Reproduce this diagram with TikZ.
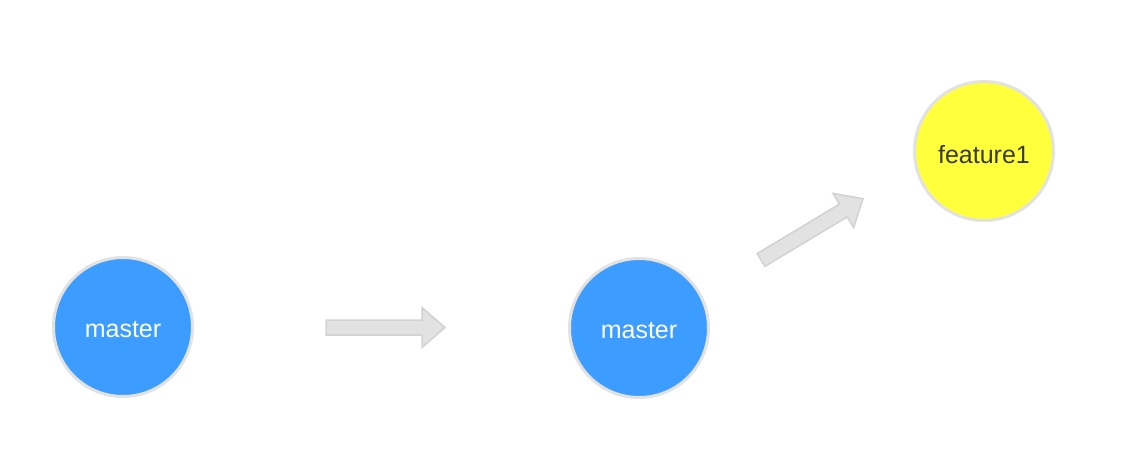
\documentclass[tikz,border=0pt]{standalone}
\usepackage{fontspec}
\setmainfont{Liberation Sans}
\definecolor{mblue}{HTML}{3C9CFF}
\definecolor{fyellow}{HTML}{FFFF3C}
\definecolor{ringgray}{HTML}{E2E2E2}
\definecolor{arrfill}{HTML}{E2E2E2}
\definecolor{arrline}{HTML}{D2D2D2}
\definecolor{ftext}{HTML}{3A3A2A}
\newcommand{\lowered}[2]{\raisebox{-#1}[\height][\depth]{#2}}
\begin{document}
\begin{tikzpicture}[x=1pt,y=-1pt,
  commit/.style={circle,minimum size=139pt,inner sep=0pt,draw=ringgray,line width=3pt,font=\fontsize{25}{30}\selectfont},
  blockarrow/.style={fill=arrfill,draw=arrline,line width=1.5pt,line join=miter}]
\useasboundingbox[fill=white] (0,0) rectangle (1144,464);
\node[commit,fill=mblue,text=white] (m1) at (123,327) {\lowered{2.5pt}{master}};
\node[commit,fill=mblue,text=white] (m2) at (639,328) {\lowered{2.5pt}{master}};
\node[commit,fill=fyellow,text=ftext] (f1) at (984,151) {\lowered{3.5pt}{feature1}};
\begin{scope}[shift={(326,327.5)}]
  \draw[blockarrow] (0,-7.5) -- (96,-7.5) -- (96,-20) -- (119,0) -- (96,20) -- (96,7.5) -- (0,7.5) -- cycle;
\end{scope}
\begin{scope}[shift={(761,260)},rotate=31]
  \draw[blockarrow] (0,-7.5) -- (96,-7.5) -- (96,-20) -- (119,0) -- (96,20) -- (96,7.5) -- (0,7.5) -- cycle;
\end{scope}
\end{tikzpicture}
\end{document}
